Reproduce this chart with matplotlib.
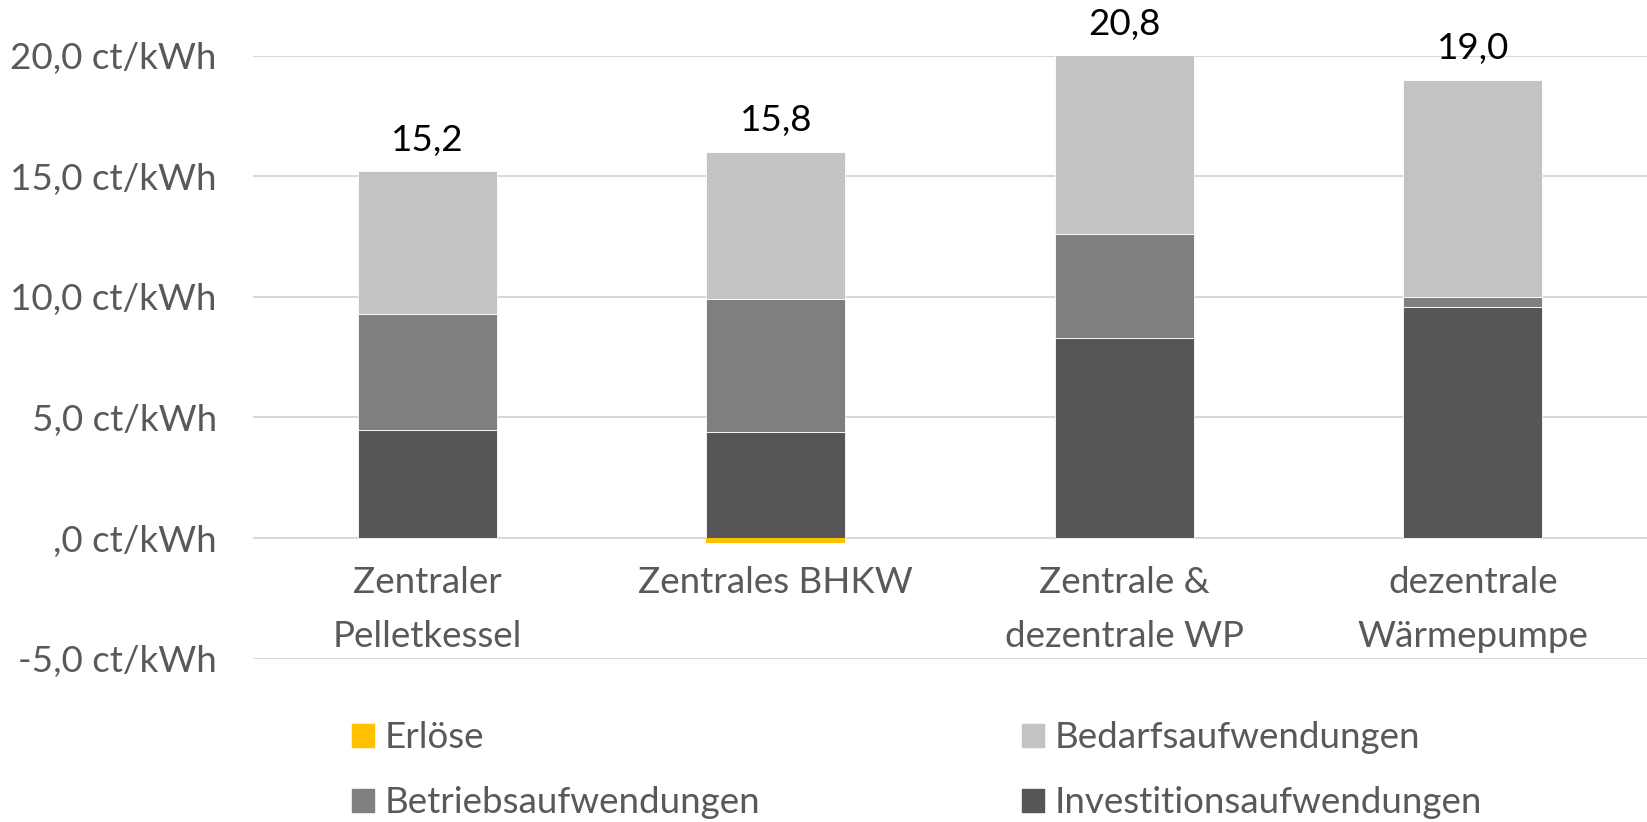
import matplotlib.pyplot as plt
from matplotlib.patches import Patch

plt.rcParams['font.family'] = ['Lato', 'DejaVu Sans']

# data (ct/kWh)
kategorien = ['Zentraler\nPelletkessel', 'Zentrales BHKW', 'Zentrale &\ndezentrale WP', 'dezentrale\nWärmepumpe']
invest = [4.5, 4.4, 8.3, 9.6]
betrieb = [4.8, 5.5, 4.3, 0.4]
bedarf = [5.9, 6.1, 8.2, 9.0]
erloese = [0.0, -0.2, 0.0, 0.0]
summen = ['15,2', '15,8', '20,8', '19,0']

c_erl = '#FFC000'
c_bed = '#C3C2C4'
c_bet = '#7F7F7F'
c_inv = '#555658'
grau = '#595959'
fs = 26.5

fig = plt.figure(figsize=(16.47, 8.22), dpi=100)
ax = fig.add_axes([0.1536, 0.1988, 0.8464, 0.7334])

x = list(range(len(kategorien)))
w = 0.4
ax.bar(x, invest, w, color=c_inv, edgecolor='white', linewidth=0.6, zorder=3)
unten = invest[:]
ax.bar(x, betrieb, w, bottom=unten, color=c_bet, edgecolor='white', linewidth=0.6, zorder=3)
unten = [a + b for a, b in zip(unten, betrieb)]
ax.bar(x, bedarf, w, bottom=unten, color=c_bed, edgecolor='white', linewidth=0.6, zorder=3)
oben = [a + b for a, b in zip(unten, bedarf)]
ax.bar(x, erloese, w, color=c_erl, linewidth=0, zorder=3)

ax.set_xlim(-0.5, 3.5)
ax.set_ylim(-5, 20)

# total labels above the (clipped) stack top
for i, s in enumerate(summen):
    ax.annotate(s, (x[i], min(oben[i], 20)), xytext=(0, 15), textcoords='offset points',
                ha='center', va='baseline', fontsize=fs, color='black', annotation_clip=False)

ax.set_yticks([-5, 0, 5, 10, 15, 20])
ax.set_yticklabels(['-5,0 ct/kWh', ',0 ct/kWh', '5,0 ct/kWh', '10,0 ct/kWh', '15,0 ct/kWh', '20,0 ct/kWh'])
ax.set_xticks(x)
ax.set_xticklabels(kategorien)
ax.spines['bottom'].set_position(('data', 0))
for sp in ax.spines.values():
    sp.set_visible(False)
ax.tick_params(axis='y', length=0, pad=26, labelsize=fs, labelcolor=grau)
ax.tick_params(axis='x', length=0, pad=20, labelsize=fs, labelcolor=grau)
for t in ax.get_xticklabels():
    t.set_linespacing(1.8)
ax.grid(axis='y', color='#D9D9D9', linewidth=1.5, zorder=0)
ax.set_axisbelow(True)

griffe = [Patch(color=c_erl), Patch(color=c_bet), Patch(color=c_bed), Patch(color=c_inv)]
namen = ['Erlöse', 'Betriebsaufwendungen', 'Bedarfsaufwendungen', 'Investitionsaufwendungen']
fig.legend(griffe, namen, ncol=2, loc='upper left', bbox_to_anchor=(0.2025, 0.145),
           frameon=False, fontsize=fs, labelcolor=grau, handlelength=0.6, handleheight=0.6,
           handletextpad=0.3, columnspacing=7.1, labelspacing=0.87, borderpad=0)

fig.savefig('out.png', dpi=100)
